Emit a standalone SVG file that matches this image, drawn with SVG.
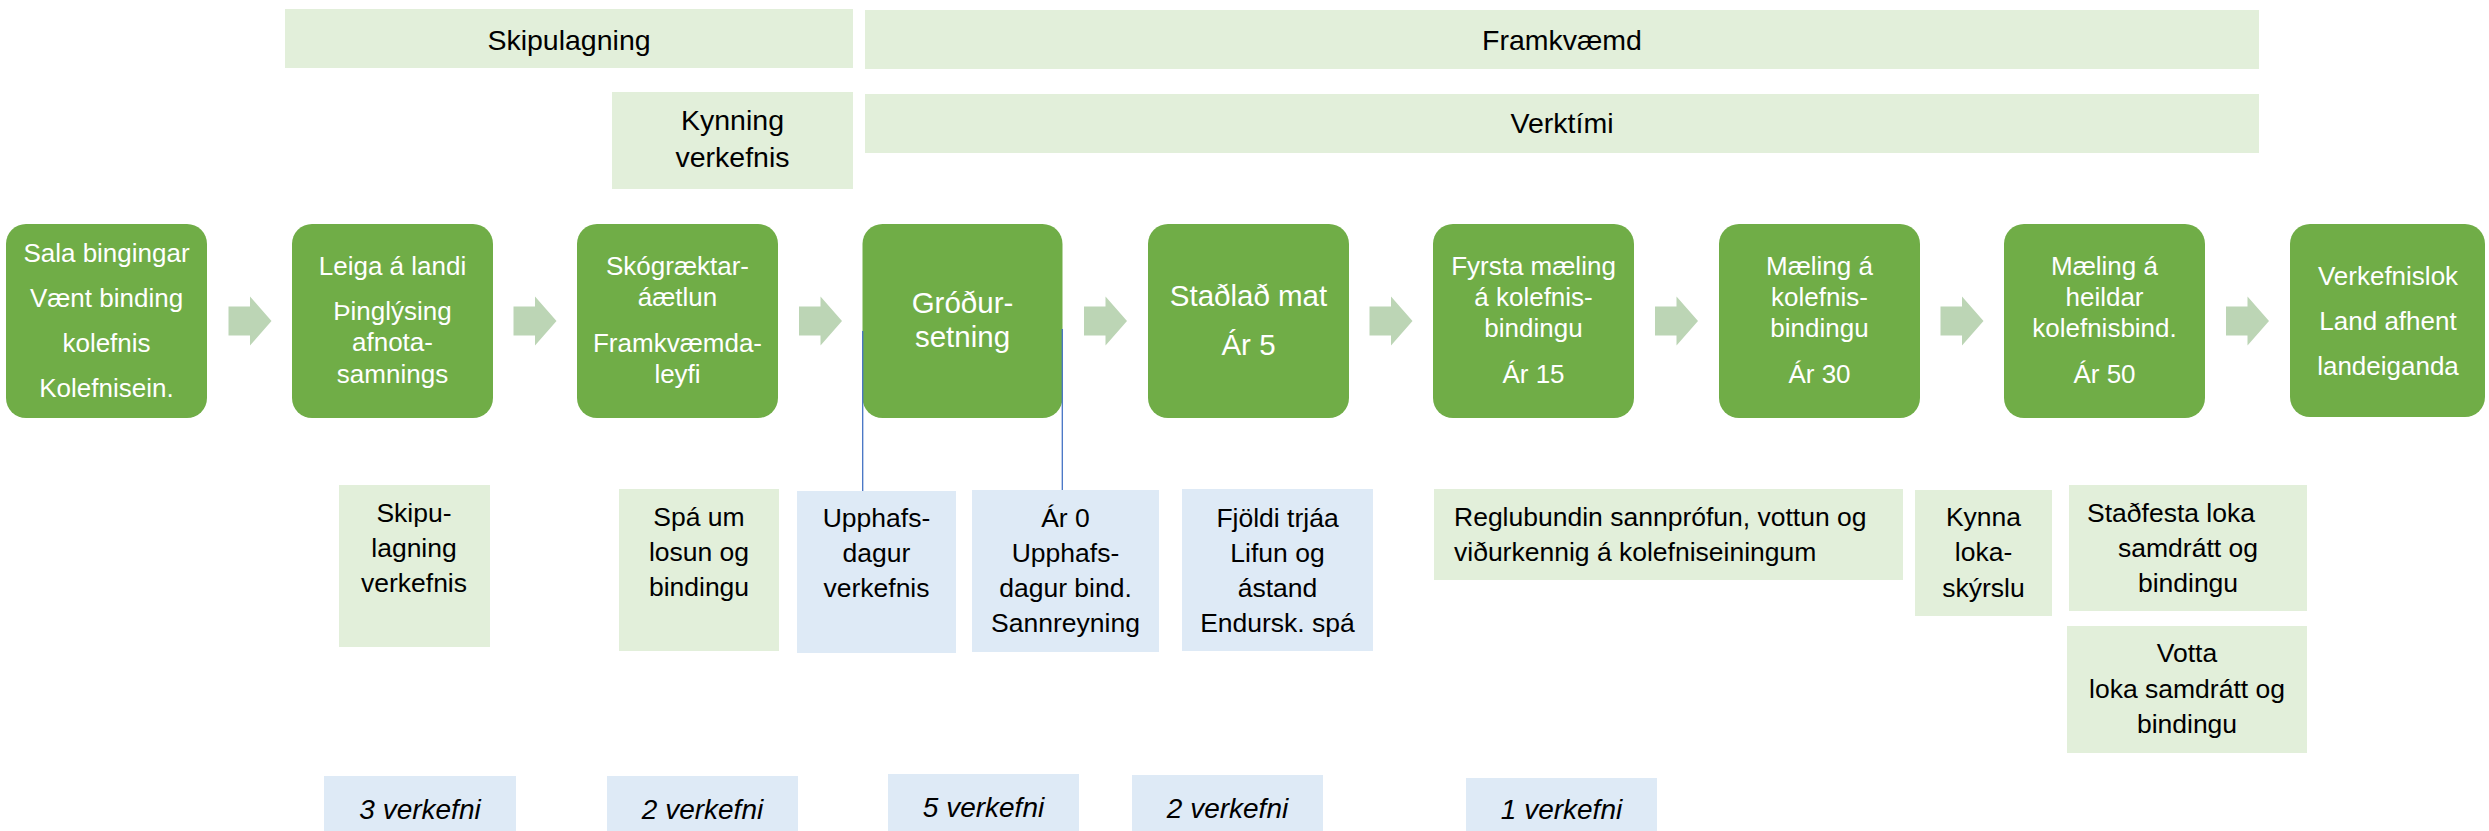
<svg xmlns="http://www.w3.org/2000/svg" width="2489" height="831" viewBox="0 0 2489 831">
<style>
text{font-family:"Liberation Sans",Arial,sans-serif;text-anchor:middle}
.hdr{fill:#E2EFDA}
.hdr-t{font-size:28.5px;fill:#000}
.node{fill:#70AD47}
.node-t{font-size:26px;fill:#fff}
.node-l{font-size:29.5px;fill:#fff}
.note-g{fill:#E2EFDA}
.note-b{fill:#DEEAF6}
.note-t{font-size:26.5px;fill:#000}
.cnt-t{font-size:28px;font-style:italic;fill:#000}
.arr{fill:#BCD5B5}
.vline{stroke:#4472C4;stroke-width:1.3;fill:none}
</style>
<defs>
<path id="arrow" d="M0,10 H21.5 V0 L43,24.5 L21.5,49 V39 H0 Z"/>
</defs>
<rect width="2489" height="831" fill="#fff"/>

<g id="phase-skipulagning">
<rect class="hdr" x="285" y="9" width="568" height="59"/>
<text class="hdr-t" x="569" y="50">Skipulagning</text>
</g>
<g id="phase-framkvaemd">
<rect class="hdr" x="865" y="10" width="1394" height="59"/>
<text class="hdr-t" x="1562" y="50">Framkvæmd</text>
</g>
<g id="phase-kynning">
<rect class="hdr" x="612" y="92" width="241" height="97"/>
<text class="hdr-t" x="732.5" y="130">Kynning</text>
<text class="hdr-t" x="732.5" y="167">verkefnis</text>
</g>
<g id="phase-verktimi">
<rect class="hdr" x="865" y="94" width="1394" height="59"/>
<text class="hdr-t" x="1562" y="133">Verktími</text>
</g>

<g id="node1">
<rect class="node" x="6" y="224" width="201" height="194" rx="20"/>
<text class="node-t" x="106.5" y="262">Sala bingingar</text>
<text class="node-t" x="106.5" y="307">Vænt binding</text>
<text class="node-t" x="106.5" y="352">kolefnis</text>
<text class="node-t" x="106.5" y="397">Kolefnisein.</text>
</g>
<g id="node2">
<rect class="node" x="292" y="224" width="201" height="194" rx="20"/>
<text class="node-t" x="392.5" y="275">Leiga á landi</text>
<text class="node-t" x="392.5" y="320">Þinglýsing</text>
<text class="node-t" x="392.5" y="351">afnota-</text>
<text class="node-t" x="392.5" y="383">samnings</text>
</g>
<g id="node3">
<rect class="node" x="577" y="224" width="201" height="194" rx="20"/>
<text class="node-t" x="677.5" y="275">Skógræktar-</text>
<text class="node-t" x="677.5" y="306">áætlun</text>
<text class="node-t" x="677.5" y="352">Framkvæmda-</text>
<text class="node-t" x="677.5" y="383">leyfi</text>
</g>
<g id="node4">
<rect class="node" x="862.5" y="224" width="200" height="194" rx="20"/>
<text class="node-l" x="962.5" y="313">Gróður-</text>
<text class="node-l" x="962.5" y="347">setning</text>
</g>
<g id="node5">
<rect class="node" x="1148" y="224" width="201" height="194" rx="20"/>
<text class="node-l" x="1248.5" y="306">Staðlað mat</text>
<text class="node-l" x="1248.5" y="355">Ár 5</text>
</g>
<g id="node6">
<rect class="node" x="1433" y="224" width="201" height="194" rx="20"/>
<text class="node-t" x="1533.5" y="275">Fyrsta mæling</text>
<text class="node-t" x="1533.5" y="306">á kolefnis-</text>
<text class="node-t" x="1533.5" y="337">bindingu</text>
<text class="node-t" x="1533.5" y="383">Ár 15</text>
</g>
<g id="node7">
<rect class="node" x="1719" y="224" width="201" height="194" rx="20"/>
<text class="node-t" x="1819.5" y="275">Mæling á</text>
<text class="node-t" x="1819.5" y="306">kolefnis-</text>
<text class="node-t" x="1819.5" y="337">bindingu</text>
<text class="node-t" x="1819.5" y="383">Ár 30</text>
</g>
<g id="node8">
<rect class="node" x="2004" y="224" width="201" height="194" rx="20"/>
<text class="node-t" x="2104.5" y="275">Mæling á</text>
<text class="node-t" x="2104.5" y="306">heildar</text>
<text class="node-t" x="2104.5" y="337">kolefnisbind.</text>
<text class="node-t" x="2104.5" y="383">Ár 50</text>
</g>
<g id="node9">
<rect class="node" x="2290" y="224" width="195" height="193" rx="20"/>
<text class="node-t" x="2388" y="285">Verkefnislok</text>
<text class="node-t" x="2388" y="330">Land afhent</text>
<text class="node-t" x="2388" y="375">landeiganda</text>
</g>

<g id="connectors">
<use href="#arrow" class="arr" x="228.5" y="296.5"/>
<use href="#arrow" class="arr" x="513.5" y="296.5"/>
<use href="#arrow" class="arr" x="799" y="296.5"/>
<use href="#arrow" class="arr" x="1084" y="296.5"/>
<use href="#arrow" class="arr" x="1369.5" y="296.5"/>
<use href="#arrow" class="arr" x="1655" y="296.5"/>
<use href="#arrow" class="arr" x="1940.5" y="296.5"/>
<use href="#arrow" class="arr" x="2226" y="296.5"/>
<line class="vline" x1="862.7" y1="331" x2="862.7" y2="491"/>
<line class="vline" x1="1062.3" y1="329" x2="1062.3" y2="491"/>
</g>

<g id="note-skipulagning">
<rect class="note-g" x="339" y="485" width="151" height="162"/>
<text class="note-t" x="414" y="522">Skipu-</text>
<text class="note-t" x="414" y="557">lagning</text>
<text class="note-t" x="414" y="592">verkefnis</text>
</g>
<g id="note-spa">
<rect class="note-g" x="619" y="489" width="160" height="162"/>
<text class="note-t" x="699" y="526">Spá um</text>
<text class="note-t" x="699" y="561">losun og</text>
<text class="note-t" x="699" y="596">bindingu</text>
</g>
<g id="note-upphafsdagur">
<rect class="note-b" x="797" y="491" width="159" height="162"/>
<text class="note-t" x="876.5" y="527">Upphafs-</text>
<text class="note-t" x="876.5" y="562">dagur</text>
<text class="note-t" x="876.5" y="597">verkefnis</text>
</g>
<g id="note-ar0">
<rect class="note-b" x="972" y="490" width="187" height="162"/>
<text class="note-t" x="1065.5" y="527">Ár 0</text>
<text class="note-t" x="1065.5" y="562">Upphafs-</text>
<text class="note-t" x="1065.5" y="597">dagur bind.</text>
<text class="note-t" x="1065.5" y="632">Sannreyning</text>
</g>
<g id="note-fjoldi">
<rect class="note-b" x="1182" y="489" width="191" height="162"/>
<text class="note-t" x="1277.5" y="527">Fjöldi trjáa</text>
<text class="note-t" x="1277.5" y="562">Lifun og</text>
<text class="note-t" x="1277.5" y="597">ástand</text>
<text class="note-t" x="1277.5" y="632">Endursk. spá</text>
</g>
<g id="note-reglubundin">
<rect class="note-g" x="1434" y="489" width="469" height="91"/>
<text class="note-t" x="1454" y="526" style="text-anchor:start">Reglubundin sannprófun, vottun og</text>
<text class="note-t" x="1454" y="561" style="text-anchor:start">viðurkennig á kolefniseiningum</text>
</g>
<g id="note-kynna">
<rect class="note-g" x="1915" y="490" width="137" height="126"/>
<text class="note-t" x="1983.5" y="526">Kynna</text>
<text class="note-t" x="1983.5" y="561">loka-</text>
<text class="note-t" x="1983.5" y="597">skýrslu</text>
</g>
<g id="note-stadfesta">
<rect class="note-g" x="2069" y="485" width="238" height="126"/>
<text class="note-t" x="2171" y="522">Staðfesta loka</text>
<text class="note-t" x="2188" y="557">samdrátt og</text>
<text class="note-t" x="2188" y="592">bindingu</text>
</g>
<g id="note-votta">
<rect class="note-g" x="2067" y="626" width="240" height="127"/>
<text class="note-t" x="2187" y="662">Votta</text>
<text class="note-t" x="2187" y="698">loka samdrátt og</text>
<text class="note-t" x="2187" y="733">bindingu</text>
</g>

<g id="count1">
<rect class="note-b" x="324" y="776" width="192" height="55"/>
<text class="cnt-t" x="420" y="819">3 verkefni</text>
</g>
<g id="count2">
<rect class="note-b" x="607" y="776" width="191" height="55"/>
<text class="cnt-t" x="702.5" y="819">2 verkefni</text>
</g>
<g id="count3">
<rect class="note-b" x="888" y="774" width="191" height="57"/>
<text class="cnt-t" x="983.5" y="817">5 verkefni</text>
</g>
<g id="count4">
<rect class="note-b" x="1132" y="775" width="191" height="56"/>
<text class="cnt-t" x="1227.5" y="818">2 verkefni</text>
</g>
<g id="count5">
<rect class="note-b" x="1466" y="778" width="191" height="53"/>
<text class="cnt-t" x="1561.5" y="819">1 verkefni</text>
</g>
</svg>
